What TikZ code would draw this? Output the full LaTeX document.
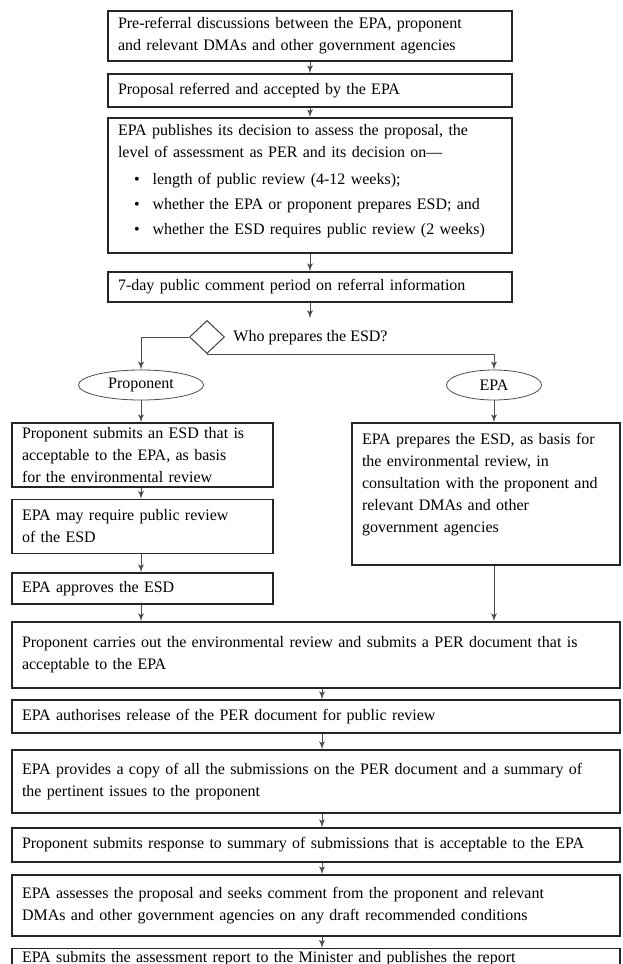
\documentclass[tikz,border=0pt]{standalone}
\usepackage{fontspec}
\setmainfont{Liberation Serif}
\usetikzlibrary{arrows,shapes}

\begin{document}
\begin{tikzpicture}[>=latex', x=0.5pt, y=-0.5pt,
	flowbox/.style={draw=black!85, line width=0.6pt, rectangle, align=left, inner xsep=5pt, inner ysep=0pt, font=\fontsize{8}{11}\selectfont},
	upperbox/.style={flowbox, minimum width=202pt, text width=192pt},
	halfbox/.style={flowbox, minimum width=130.5pt, text width=120.5pt},
	widebox/.style={flowbox, minimum width=304pt, text width=294pt},
	party/.style={ellipse, draw=black!70, line width=0.4pt, minimum height=15pt, inner sep=0pt, font=\fontsize{8}{11}\selectfont},
	choice/.style={diamond, draw=black!75, line width=0.5pt, minimum width=17.5pt, minimum height=16.5pt, inner sep=0pt},
	flow/.style={->, draw=black!70, line width=0.4pt}]
	\useasboundingbox (0,0) rectangle (622,964);

	\node (prereferral) at (310,36)    [upperbox, minimum height=25pt]   {Pre-referral discussions between the EPA, proponent\\and relevant DMAs and other government agencies};
	\node (referred)    at (310,90.5)  [upperbox, minimum height=16.5pt] {Proposal referred and accepted by the EPA};
	\node (publishes)   at (310,185.5) [upperbox, minimum height=67.5pt] {EPA publishes its decision to assess the proposal, the\\level of assessment as PER and its decision on---\\[2.5pt]\hspace*{8pt}\textbullet\hspace{6.5pt}length of public review (4-12 weeks);\\[1.5pt]\hspace*{8pt}\textbullet\hspace{6.5pt}whether the EPA or proponent prepares ESD; and\\[1.5pt]\hspace*{8pt}\textbullet\hspace{6.5pt}whether the ESD requires public review (2 weeks)\\[-5pt]\mbox{}};
	\node (comment)     at (310,287)   [upperbox, minimum height=15pt]   {7-day public comment period on referral information};

	\node (choice)      at (207,337)   [choice] {};
	\node (question)    at (233,338)   [anchor=west, inner xsep=0pt, inner ysep=6pt, font=\fontsize{8}{11}\selectfont] {Who prepares the ESD?};
	\node (proponent)   at (141,385)   [party, minimum width=62.5pt] {Proponent};
	\node (epa)         at (494,385)   [party, minimum width=47.5pt] {EPA};

	\node (submits)     at (142.5,455)   [halfbox, minimum height=32pt]   {Proponent submits an ESD that is\\acceptable to the EPA, as basis\\for the environmental review};
	\node (mayrequire)  at (142.5,526.5) [halfbox, minimum height=27pt]   {EPA may require public review\\of the ESD};
	\node (approves)    at (142.5,588.5) [halfbox, minimum height=15.5pt] {EPA approves the ESD};
	\node (prepares)    at (486,494)     [flowbox, minimum width=134pt, text width=124pt, minimum height=71pt] {EPA prepares the ESD, as basis for\\the environmental review, in\\consultation with the proponent and\\relevant DMAs and other\\government agencies\\\mbox{}};

	\node (carries)     at (316,655)   [widebox, minimum height=33pt]   {Proponent carries out the environmental review and submits a PER document that is\\acceptable to the EPA};
	\node (authorises)  at (316,716.5) [widebox, minimum height=16.5pt] {EPA authorises release of the PER document for public review};
	\node (provides)    at (316,781.5) [widebox, minimum height=31.5pt] {EPA provides a copy of all the submissions on the PER document and a summary of\\the pertinent issues to the proponent};
	\node (response)    at (316,845)   [widebox, minimum height=17pt]   {Proponent submits response to summary of submissions that is acceptable to the EPA};
	\node (assesses)    at (316,905.5) [widebox, minimum height=30.5pt] {EPA assesses the proposal and seeks comment from the proponent and relevant\\DMAs and other government agencies on any draft recommended conditions};
	\node (report)      at (316,948)   [widebox, anchor=north, minimum height=10pt] {EPA submits the assessment report to the Minister and publishes the report};

	\coordinate (spine) at (322,0);

	\draw [flow] (prereferral) -- (referred);
	\draw [flow] (referred) -- (publishes);
	\draw [flow] (publishes) -- (comment);
	\draw [flow] (comment) -- (question.north -| comment);
	\draw [flow] (choice.west) -| (proponent);
	\draw [flow] (choice.south) -| (epa);
	\draw [flow] (proponent) -- (proponent |- submits.north);
	\draw [flow] (proponent |- submits.south) -- (proponent |- mayrequire.north);
	\draw [flow] (proponent |- mayrequire.south) -- (proponent |- approves.north);
	\draw [flow] (proponent |- approves.south) -- (proponent |- carries.north);
	\draw [flow] (epa) -- (epa |- prepares.north);
	\draw [flow] (epa |- prepares.south) -- (epa |- carries.north);
	\draw [flow] (spine |- carries.south) -- (spine |- authorises.north);
	\draw [flow] (spine |- authorises.south) -- (spine |- provides.north);
	\draw [flow] (spine |- provides.south) -- (spine |- response.north);
	\draw [flow] (spine |- response.south) -- (spine |- assesses.north);
	\draw [flow] (spine |- assesses.south) -- (spine |- report.north);
\end{tikzpicture}
\end{document}
